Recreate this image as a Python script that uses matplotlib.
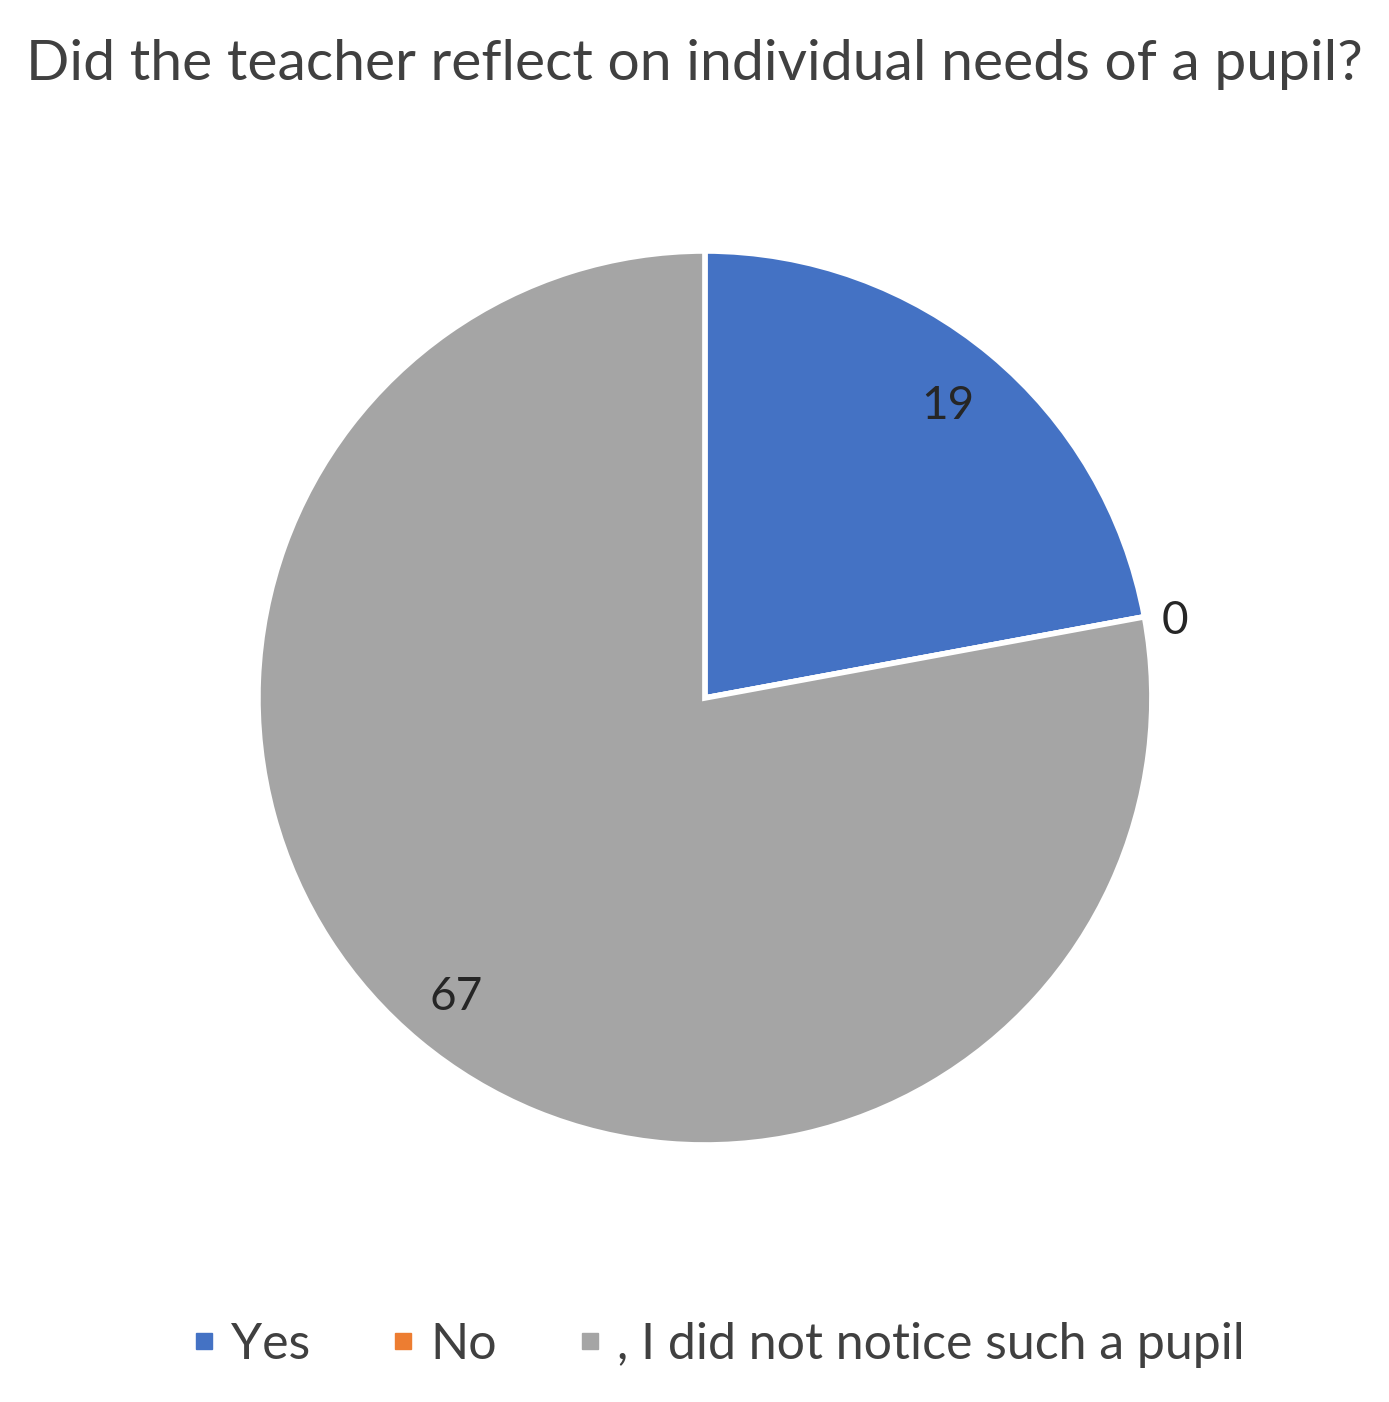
import numpy as np
import matplotlib.pyplot as plt
from matplotlib.lines import Line2D

plt.rcParams['font.family'] = ['Lato', 'DejaVu Sans']

title = "Did the teacher reflect on individual needs of a pupil?"
categories = ["Yes", "No", ", I did not notice such a pupil"]
values = [19, 0, 67]
colors = ["#4472C4", "#ED7D31", "#A5A5A5"]

fig = plt.figure(figsize=(13.89, 14.02), dpi=100)
ax = fig.add_axes([0.1857, 0.1833, 0.6436, 0.6377])

wedges, _ = ax.pie(values, colors=colors, startangle=90, counterclock=False,
                   wedgeprops=dict(edgecolor="white", linewidth=4))
ax.set_xlim(-1, 1)
ax.set_ylim(-1, 1)
ax.set_aspect("equal")
ax.axis("off")

# label distance from centre and small vertical nudge, per slice
dists = [0.85, 1.07, 0.87]
nudges = [0, -0.022, 0]
for w, v, d, dy in zip(wedges, values, dists, nudges):
    theta = np.deg2rad((w.theta1 + w.theta2) / 2)
    ax.text(d * np.cos(theta), d * np.sin(theta) + dy, str(v), ha="center", va="center",
            fontsize=33, color="#262626")

fig.text(0.5, 0.954, title, ha="center", va="center", fontsize=41, color="#404040")

handles = [Line2D([], [], marker="s", linestyle="none", markersize=11,
                  markerfacecolor=c, markeredgecolor=c) for c in colors]
fig.legend(handles, categories, loc="center", bbox_to_anchor=(0.517, 0.041),
           ncol=3, frameon=False, fontsize=36, handletextpad=0.3,
           columnspacing=1.6, labelcolor="#404040", handlelength=0.5)

fig.savefig("out.png", dpi=100, facecolor="white")
